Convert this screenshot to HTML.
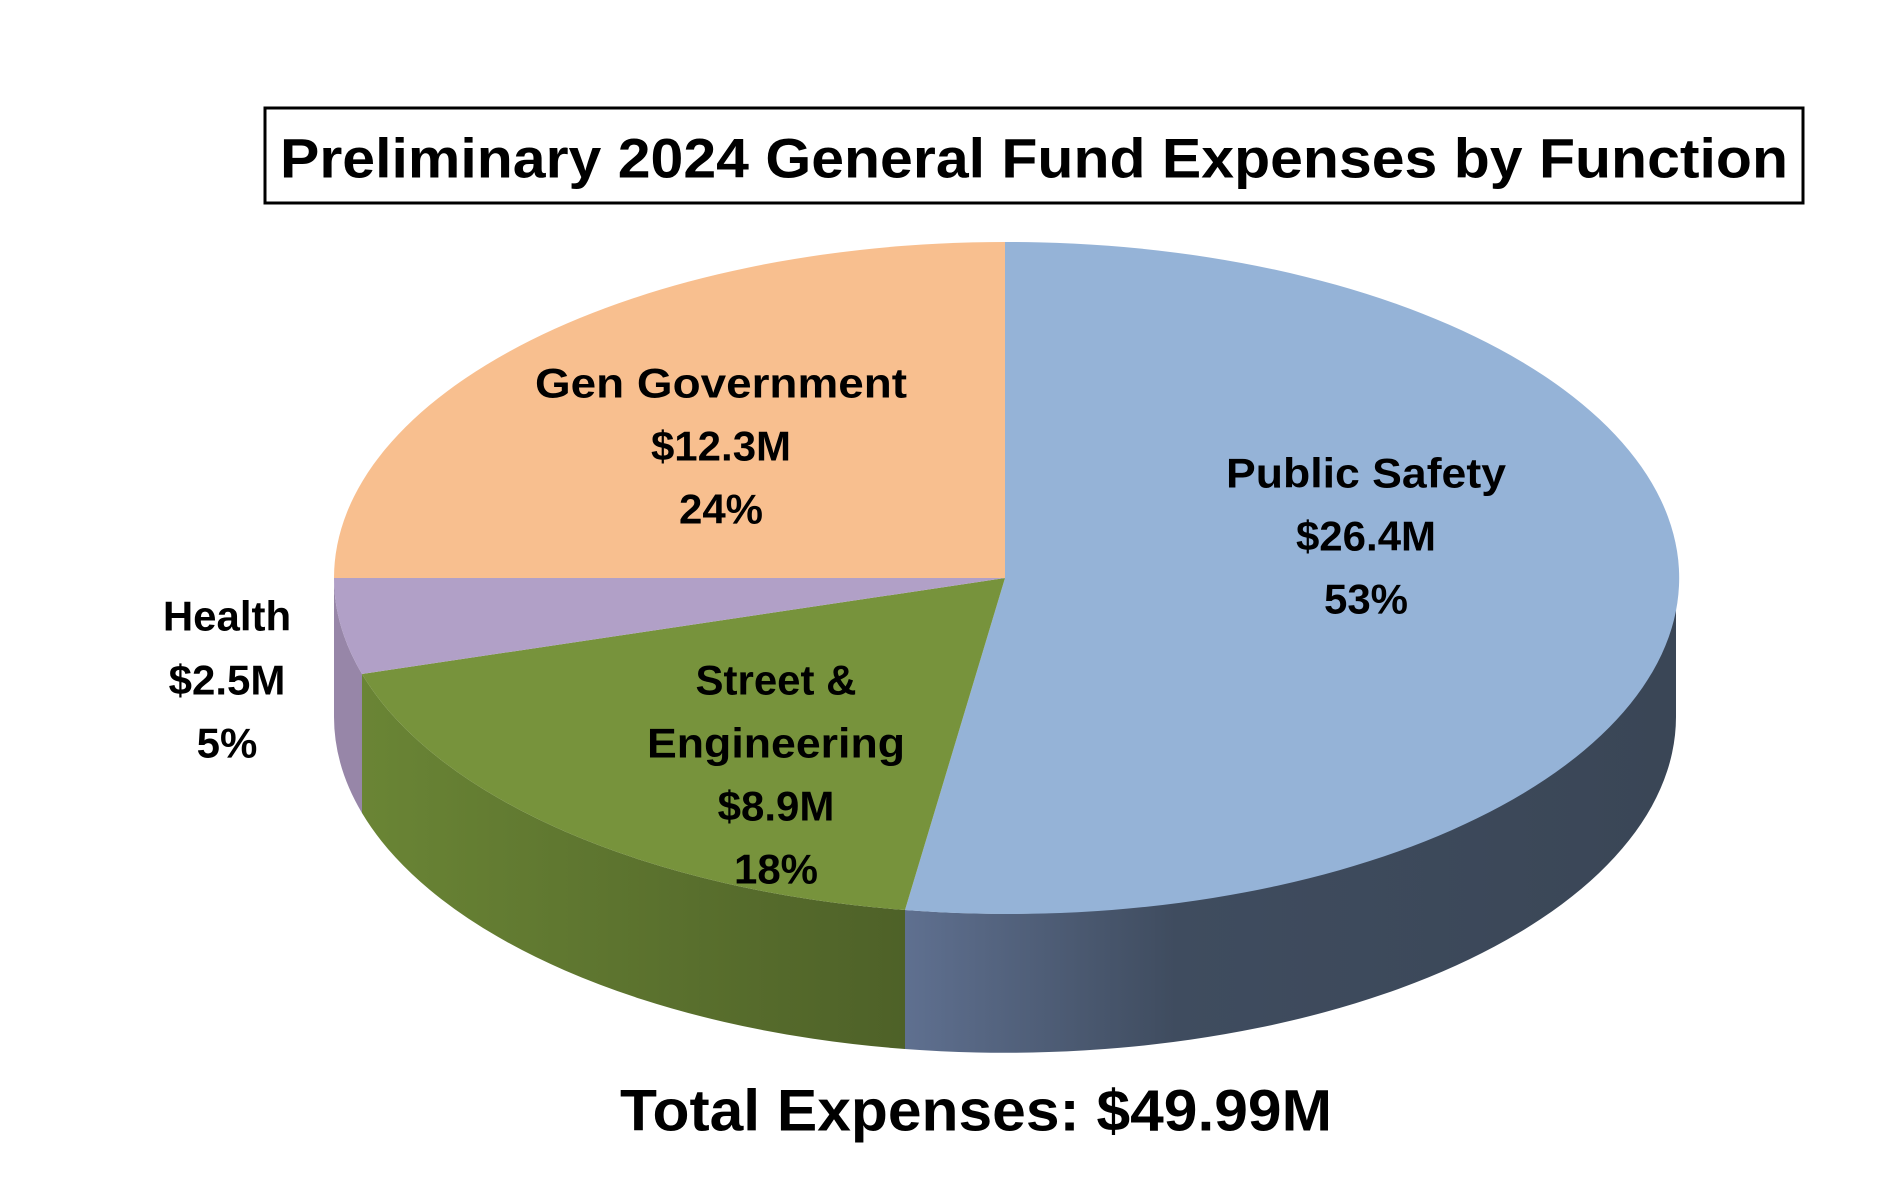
<!DOCTYPE html>
<html><head><style>
html,body{margin:0;padding:0;background:#fff;}
svg{display:block;}
text{font-family:"Liberation Sans",sans-serif;font-weight:bold;fill:#000;text-anchor:middle;dominant-baseline:central;}
</style></head><body>
<svg width="1896" height="1179" viewBox="0 0 1896 1179" xmlns="http://www.w3.org/2000/svg">
<defs>
<linearGradient id="gs" x1="905" y1="0" x2="1676" y2="0" gradientUnits="userSpaceOnUse">
<stop offset="0" stop-color="#5f7090"/><stop offset="0.35" stop-color="#3f4c5f"/><stop offset="1" stop-color="#3a4656"/>
</linearGradient>
<linearGradient id="gg" x1="362" y1="0" x2="905" y2="0" gradientUnits="userSpaceOnUse">
<stop offset="0" stop-color="#6a8535"/><stop offset="1" stop-color="#4e6128"/>
</linearGradient>
</defs>
<rect x="265" y="108" width="1538" height="95" fill="#fff" stroke="#000" stroke-width="3"/>
<text x="1034" y="158" font-size="56" textLength="1508" lengthAdjust="spacingAndGlyphs">Preliminary 2024 General Fund Expenses by Function</text>
<!-- sides -->
<path d="M1676,578 A671,336 0 0 1 905,910 L905,1049 A671,336 0 0 0 1676,717 Z" fill="url(#gs)"/>
<path d="M905,910 A671,336 0 0 1 362,674 L362,813 A671,336 0 0 0 905,1049 Z" fill="url(#gg)"/>
<path d="M362,674 A671,336 0 0 1 334,578 L334,717 A671,336 0 0 0 362,813 Z" fill="#9786a8"/>
<!-- tops -->
<path d="M1005,578 L1005,242 A671,336 0 1 1 905,910 Z" fill="#95b3d7"/>
<path d="M1005,578 L905,910 A671,336 0 0 1 362,674 Z" fill="#77933c"/>
<path d="M1005,578 L362,674 A671,336 0 0 1 334,578 Z" fill="#b1a0c7"/>
<path d="M1005,578 L334,578 A671,336 0 0 1 1005,242 Z" fill="#f8bf8f"/>
<g font-size="42">
<text x="721" y="383" textLength="372" lengthAdjust="spacingAndGlyphs">Gen Government</text>
<text x="721" y="446">$12.3M</text>
<text x="721" y="509">24%</text>
<text x="1366" y="473" textLength="280" lengthAdjust="spacingAndGlyphs">Public Safety</text>
<text x="1366" y="536">$26.4M</text>
<text x="1366" y="599">53%</text>
<text x="227" y="616">Health</text>
<text x="227" y="680">$2.5M</text>
<text x="227" y="743">5%</text>
<text x="776" y="680">Street &amp;</text>
<text x="776" y="743" textLength="258" lengthAdjust="spacingAndGlyphs">Engineering</text>
<text x="776" y="806">$8.9M</text>
<text x="776" y="869">18%</text>
</g>
<text x="976" y="1111" font-size="58" textLength="712" lengthAdjust="spacingAndGlyphs">Total Expenses: $49.99M</text>
</svg>
</body></html>
